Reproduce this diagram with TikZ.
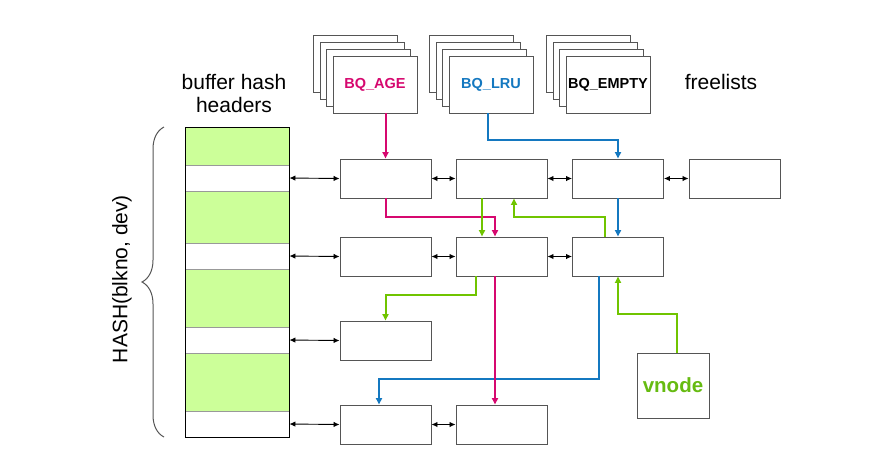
\documentclass[tikz,border=0pt]{standalone}
\usepackage{fontspec}
\setmainfont{Liberation Sans}
\usetikzlibrary{arrows.meta,decorations.pathreplacing,calc}
\definecolor{mag}{HTML}{D6086F}
\definecolor{blu}{HTML}{1478C0}
\definecolor{grn}{HTML}{70C400}
\definecolor{vgrn}{HTML}{66BB11}
\definecolor{hgreen}{HTML}{CCFF99}
\definecolor{boxgray}{HTML}{555555}
\begin{document}
\begin{tikzpicture}[x=1pt,y=-1pt,
  buf/.style={draw=boxgray,line width=0.95pt,fill=white,minimum width=91pt,minimum height=39pt,inner sep=0pt},
  fl/.style={draw=boxgray,line width=0.95pt,fill=white,minimum width=84pt,minimum height=57pt,inner sep=0pt,font=\fontsize{14.5}{16}\selectfont\bfseries},
  slot/.style={draw=boxgray!60,line width=0.9pt,fill=white,minimum width=104pt,minimum height=26pt,inner sep=0pt},
  lbl/.style={font=\fontsize{21}{23}\selectfont,align=center,inner sep=0pt},
  lk/.style={line width=2pt,-{Triangle[length=6.5pt,width=6pt]}},
  dbl/.style={line width=0.9pt,black,{Latex[length=6pt,width=5.5pt]}-{Latex[length=6pt,width=5.5pt]}}]
\useasboundingbox (0,0) rectangle (877,475);

% labels
\node[lbl] (bh) at (234,93) {buffer hash\\headers};
\node[lbl] (frl) at (721,82) {freelists};
\node[lbl,rotate=90] (hash) at (122,279) {HASH(blkno, dev)};

% brace
\draw[boxgray,line width=1pt,decorate,decoration={brace,amplitude=22pt}] (164,437) -- (164,127);

% hash column
\fill[hgreen] (185,127) rectangle (289,165);
\fill[hgreen] (185,191) rectangle (289,243);
\fill[hgreen] (185,269) rectangle (289,327);
\fill[hgreen] (185,353) rectangle (289,411);
\node[slot] (h1) at (237,178) {};
\node[slot] (h2) at (237,256) {};
\node[slot] (h3) at (237,340) {};
\node[slot] (h4) at (237,424) {};
\draw[black,line width=0.95pt] (185,127) rectangle (289,437);

% freelist stacks
\foreach \k in {3,2,1} {
  \node[fl] at (375-6.4*\k,84.5-6.7*\k) {};
  \node[fl] at (491-6.4*\k,84.5-6.7*\k) {};
  \node[fl] at (608-6.4*\k,84.5-6.7*\k) {};
}
\node[fl,text=mag] (fage) at (375,84.5) {BQ\_AGE};
\node[fl,text=blu] (flru) at (491,84.5) {BQ\_LRU};
\node[fl] (femp) at (608,84.5) {BQ\_EMPTY};

% buffers
\node[buf] (r1c1) at (385.5,178.5) {};
\node[buf] (r1c2) at (501.5,178.5) {};
\node[buf] (r1c3) at (618,178.5) {};
\node[buf] (r1c4) at (734.5,178.5) {};
\node[buf] (r2c1) at (385.5,256.5) {};
\node[buf] (r2c2) at (501.5,256.5) {};
\node[buf] (r2c3) at (618,256.5) {};
\node[buf] (r3c1) at (385.5,340.5) {};
\node[buf] (r4c1) at (385.5,424.5) {};
\node[buf] (r4c2) at (501.5,424.5) {};
\node[draw=boxgray,line width=0.95pt,fill=white,minimum width=72pt,minimum height=65pt,inner sep=0pt,text=vgrn,font=\fontsize{20.5}{22}\selectfont\bfseries] (vn) at (673,385.5) {vnode};

% hash chains
\draw[dbl] (h1.east) -- (r1c1.west);
\draw[dbl] (r1c1.east) -- (r1c2.west);
\draw[dbl] (r1c2.east) -- (r1c3.west);
\draw[dbl] (r1c3.east) -- (r1c4.west);
\draw[dbl] (h2.east) -- (r2c1.west);
\draw[dbl] (r2c1.east) -- (r2c2.west);
\draw[dbl] (r2c2.east) -- (r2c3.west);
\draw[dbl] (h3.east) -- (r3c1.west);
\draw[dbl] (h4.east) -- (r4c1.west);
\draw[dbl] (r4c1.east) -- (r4c2.west);

% helper coordinates
\coordinate (yb1) at (0,139.5);
\coordinate (ym1) at (0,217);
\coordinate (yg2) at (0,295);
\coordinate (yg3) at (0,314);
\coordinate (yb2) at (0,379);
\coordinate (m2) at ([xshift=-6.5pt]r2c2.north);
\coordinate (g1) at ([xshift=12.5pt]r1c2.south);
\coordinate (b4) at ([xshift=-6.5pt]r4c1.north);

% freelist links
\draw[lk,blu] ([xshift=-3pt]flru.south) |- (r1c3.north |- yb1) -- (r1c3.north);
\draw[lk,blu] (r1c3.south) -- (r2c3.north);
\draw[lk,blu] ([xshift=-19pt]r2c3.south) |- (b4 |- yb2) -- (b4);
\draw[lk,mag] (r1c1.north |- fage.south) -- (r1c1.north);
\draw[lk,mag] (r1c1.south) |- (m2 |- ym1) -- (m2);
\draw[lk,mag] ([xshift=-6.5pt]r2c2.south) -- ([xshift=-6.5pt]r4c2.north);
\draw[lk,grn] ([xshift=-19.5pt]r1c2.south) -- ([xshift=-19.5pt]r2c2.north);
\draw[lk,grn] ([xshift=-13pt]r2c3.north) |- (g1 |- ym1) -- (g1);
\draw[lk,grn] ([xshift=-25.5pt]r2c2.south) |- (r3c1.north |- yg2) -- (r3c1.north);
\draw[lk,grn] ([xshift=4pt]vn.north) |- (r2c3.south |- yg3) -- (r2c3.south);
\end{tikzpicture}
\end{document}
